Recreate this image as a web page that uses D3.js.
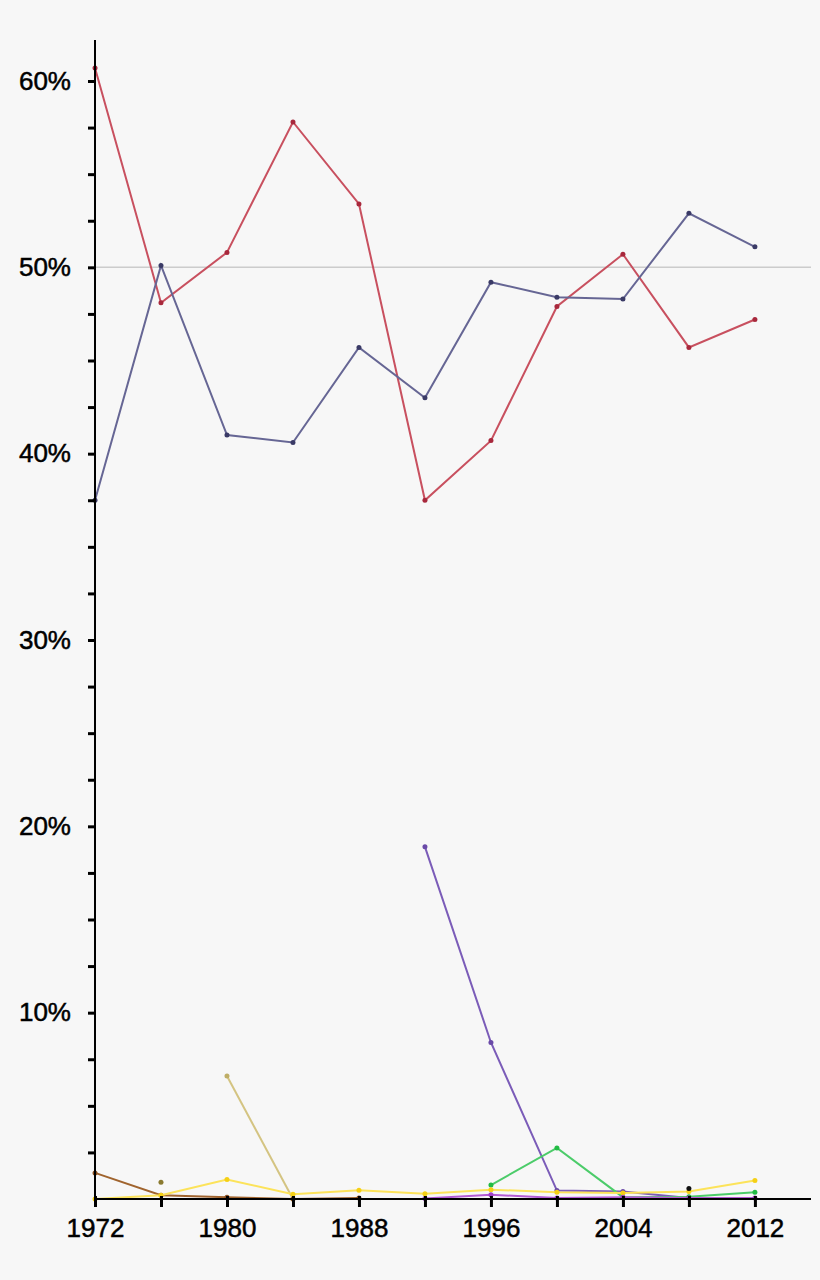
<!DOCTYPE html>
<html><head><meta charset="utf-8">
<style>
body{margin:0;background:#f7f7f7;}
text{font-family:"Liberation Sans",Arial,sans-serif;}
</style></head>
<body>
<script src="https://cdn.jsdelivr.net/npm/d3@7"></script>
<script>
var years = [1972,1976,1980,1984,1988,1992,1996,2000,2004,2008,2012];
var republican = [60.7,48.1,50.8,57.8,53.4,37.5,40.7,47.9,50.7,45.7,47.2];
var democrat   = [37.5,50.1,41.0,40.6,45.7,43.0,49.2,48.4,48.3,52.9,51.1];
var reform     = [null,null,null,null,null,18.9,8.4,0.45,0.4,0.05,null];
var anderson   = [null,null,6.6,0.0,null,null,null,null,null,null,null];
var american   = [1.4,0.2,0.1,0.0,0.05,null,null,null,null,null,null];
var mccarthy   = [null,0.9,null,null,null,null,null,null,null,null,null];
var libertarian= [0.0,0.2,1.05,0.25,0.47,0.28,0.5,0.36,0.32,0.4,0.99];
var green      = [null,null,null,null,null,null,0.75,2.74,0.1,0.12,0.36];
var other      = [null,null,null,null,null,0.03,0.23,0.05,0.1,0.06,0.05];
var independent= [null,null,null,null,null,null,null,null,null,0.57,null];

var series = [
  {v:republican,c:"#c8505f",d:"#a8283c"},
  {v:democrat,c:"#666694",d:"#3a3a66"},
  {v:reform,c:"#7b5cb8",d:"#6a4aa8"},
  {v:anderson,c:"#d4c482",d:"#bfae66"},
  {v:american,c:"#a0642e",d:"#8a5020"},
  {v:mccarthy,c:"#8a7a30",d:"#8a7a30"},
  {v:green,c:"#4ccc6a",d:"#22bb44"},
  {v:libertarian,c:"#fce35a",d:"#f5d016"},
  {v:other,c:"#b45ad4",d:"#a040c8"},
  {v:independent,c:"#111",d:"#111"}
];

var W=820,H=1280;
var svg=d3.select("body").append("svg").attr("width",W).attr("height",H);
var x=d3.scaleLinear().domain([1972,2015.4]).range([95,811]);
var y=d3.scaleLinear().domain([0,62.2]).range([1199,40]);

svg.append("line").attr("x1",95).attr("x2",811).attr("y1",y(50)).attr("y2",y(50))
  .attr("stroke","#ccc").attr("stroke-width",1.5);

var line=d3.line().defined(function(d){return d[1]!=null;})
  .x(function(d){return x(d[0]);}).y(function(d){return y(d[1]);});

series.forEach(function(s){
  var pts=years.map(function(yr,i){return [yr,s.v[i]];});
  svg.append("path").datum(pts).attr("d",line).attr("fill","none")
    .attr("stroke",s.c).attr("stroke-width",2);
  svg.selectAll(null).data(pts.filter(function(d){return d[1]!=null;})).enter()
    .append("circle").attr("cx",function(d){return x(d[0]);}).attr("cy",function(d){return y(d[1]);})
    .attr("r",2.5).attr("fill",s.d);
});

// axes
var xa=svg.append("g").attr("transform","translate(0,1199)")
  .call(d3.axisBottom(x).tickValues(d3.range(1972,2013,4)).tickSize(8).tickFormat(function(d){return d%8==4?String(d):"";}));
xa.select(".domain").attr("stroke-width",2).attr("d","M95,0H811");
xa.selectAll(".tick line").attr("stroke-width",3).attr("y1",-3);
xa.selectAll("text").attr("font-size",26).attr("font-weight",500).attr("dy","1.05em").attr("fill","#000")
  .style("stroke","#000").style("stroke-width",0.5);

var ya=svg.append("g").attr("transform","translate(95,0)")
  .call(d3.axisLeft(y).tickValues(d3.range(2.5,62.2,2.5)).tickSize(7)
  .tickFormat(function(d){return d%10==0?d+"%":"";}));
ya.select(".domain").attr("stroke-width",2).attr("d","M0,1199V40");
ya.selectAll(".tick line").attr("stroke-width",3);
ya.selectAll("text").attr("font-size",26).attr("x",-24).attr("fill","#000")
  .style("stroke","#000").style("stroke-width",0.5);
</script>
</body></html>
